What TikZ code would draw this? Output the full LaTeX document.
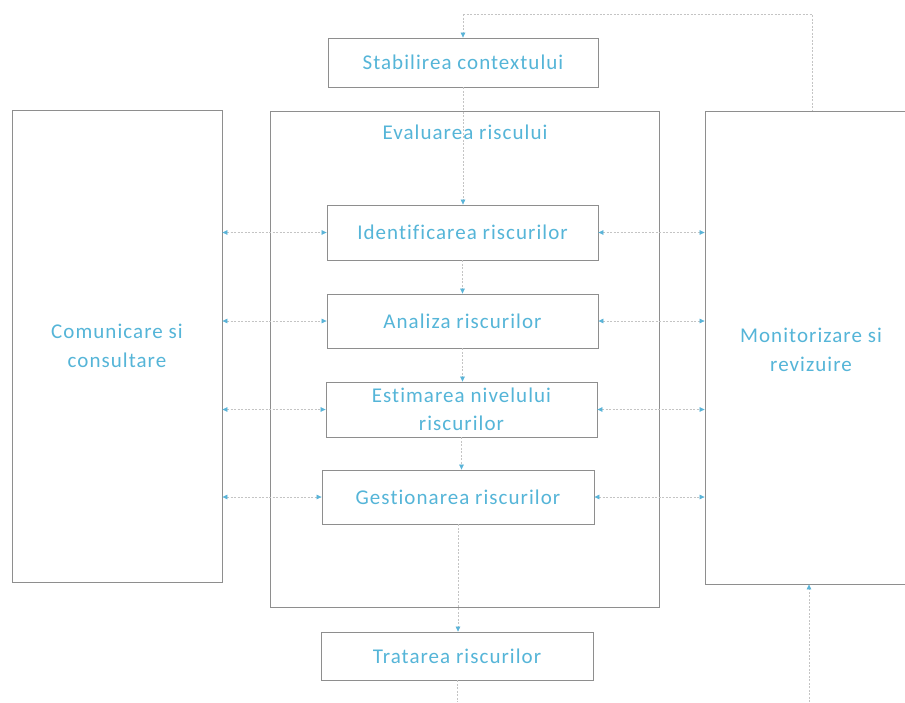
\documentclass[tikz,border=0pt]{standalone}
\usepackage{fontspec}
\setmainfont{Carlito}[Ligatures=NoCommon, LetterSpace=5]
\usetikzlibrary{arrows.meta}
\definecolor{txtblue}{HTML}{55B5D8}
\definecolor{tipblue}{HTML}{5AB4D8}
\definecolor{boxgray}{HTML}{8E8E8E}
\definecolor{linegray}{HTML}{C4C4C4}
\begin{document}
\begin{tikzpicture}[x=1pt,y=-1pt,
  every node/.style={font=\fontsize{21}{29}\selectfont, text=txtblue},
  box/.style={draw=boxgray, line width=0.8pt, inner sep=0pt, align=center},
  stepbox/.style={box, minimum width=271pt, minimum height=54pt},
  link/.style={draw=linegray, line width=0.7pt, dash pattern=on 2pt off 1.5pt,
    >={Triangle[length=5pt,width=4.5pt,color=tipblue]}},
  plain/.style={draw=linegray, line width=0.7pt, dash pattern=on 2pt off 1.5pt}]
\useasboundingbox (0,0) rectangle (905,702);
\fill[white] (0,0) rectangle (905,702);

% outer frames
\node[box, minimum width=389pt, minimum height=496pt] (eval) at (464.5,359) {};
\node (evaltitle) at (465,132) {Evaluarea riscului};
\node[box, minimum width=210pt, minimum height=472pt] (com) at (117,346)
  {Comunicare si\\consultare};
\node[box, minimum width=215pt, minimum height=473pt] (mon) at (812.5,347.5) {};
\node[align=center] (montext) at (811,350) {Monitorizare si\\revizuire};

% process steps
\node[box, minimum width=270pt, minimum height=49pt] (ctx) at (463,62.5) {Stabilirea contextului};
\node[stepbox, minimum height=55pt] (id)  at (462.5,232.5) {Identificarea riscurilor};
\node[stepbox] (an)  at (462.5,321) {Analiza riscurilor};
\node[stepbox, minimum height=55pt, font=\fontsize{21}{28}\selectfont] (est) at (461.5,409.5)
  {Estimarea nivelului\\riscurilor};
\node[stepbox, minimum width=272pt] (ges) at (458,497) {Gestionarea riscurilor};
\node[box, minimum width=272pt, minimum height=48pt] (trat) at (457,656) {Tratarea riscurilor};

% loop coordinates
\coordinate (topin)  at (ctx.north |- 0,14);
\coordinate (topout) at (812,14);
\coordinate (botin)  at (trat.south |- 0,702);
\coordinate (botout) at (809,702);

% main flow
\draw[link,->] (topin) -- (ctx.north);
\draw[plain] (topin) -- (topout) -- (topout |- mon.north);
\draw[link,->] (ctx.south) -- (ctx.south |- id.north);
\draw[link,->] (id.south) -- (id.south |- an.north);
\draw[link,->] (an.south) -- (an.south |- est.north);
\draw[link,->] (est.south) -- (est.south |- ges.north);
\draw[link,->] (ges.south) -- (ges.south |- trat.north);
\draw[plain] (trat.south) -- (botin);
\draw[link,->] (botout) -- (botout |- mon.south);

% communication and monitoring links
\foreach \s in {id,an,est,ges}{
  \draw[link,<->] (com.east |- \s.west) -- (\s.west);
  \draw[link,<->] (\s.east) -- (mon.west |- \s.east);
}
\end{tikzpicture}
\end{document}
